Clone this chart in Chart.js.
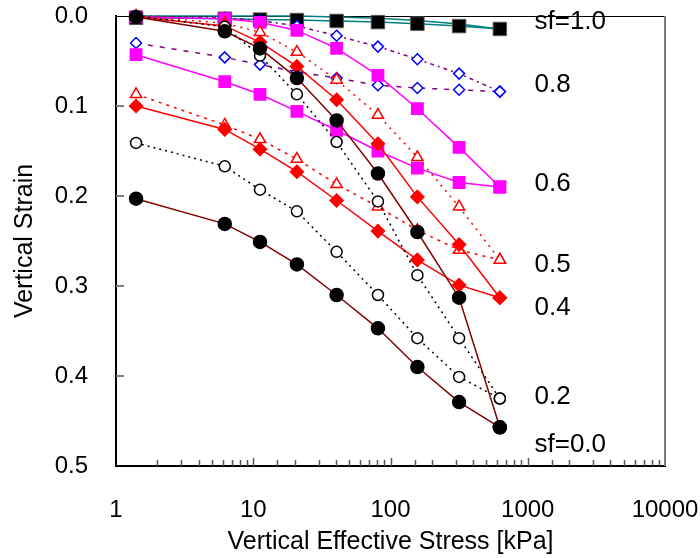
<!DOCTYPE html>
<html>
<head>
<meta charset="utf-8">
<script src="https://cdn.jsdelivr.net/npm/chart.js@4.4.1/dist/chart.umd.min.js"></script>
<style>
  html, body { margin: 0; padding: 0; background: #fff; }
  #wrap { width: 700px; height: 558px; }
</style>
</head>
<body>
<div id="wrap"><canvas id="chart"></canvas></div>
<script>
// stress steps [kPa]
const stress = [1.4, 6.2, 11.2, 20.8, 40.5, 81, 157, 316, 626];

// vertical strain, two curves per sf (from zero / from initial strain)
const sf00Up  = [0.001, 0.017, 0.036, 0.069, 0.116, 0.175, 0.240, 0.313, 0.457];
const sf00Low = [0.203, 0.231, 0.251, 0.276, 0.310, 0.347, 0.390, 0.429, 0.457];
const sf02Up  = [0.000, 0.012, 0.044, 0.087, 0.140, 0.206, 0.288, 0.358, 0.425];
const sf02Low = [0.141, 0.167, 0.193, 0.217, 0.262, 0.310, 0.358, 0.401, 0.425];
const sf04Up  = [0.001, 0.011, 0.029, 0.056, 0.093, 0.142, 0.201, 0.254, 0.313];
const sf04Low = [0.100, 0.126, 0.148, 0.173, 0.205, 0.239, 0.271, 0.299, 0.313];
const sf05Up  = [0.000, 0.008, 0.018, 0.040, 0.071, 0.110, 0.157, 0.212, 0.271];
const sf05Low = [0.087, 0.121, 0.137, 0.159, 0.187, 0.212, 0.238, 0.260, 0.271];
const sf06Up  = [0.001, 0.003, 0.007, 0.016, 0.036, 0.066, 0.103, 0.146, 0.190];
const sf06Low = [0.043, 0.073, 0.087, 0.106, 0.127, 0.150, 0.169, 0.185, 0.190];
const sf08Up  = [0.000, 0.002, 0.005, 0.011, 0.022, 0.034, 0.048, 0.064, 0.084];
const sf08Low = [0.030, 0.046, 0.054, 0.062, 0.069, 0.077, 0.080, 0.082, 0.084];
const sf10Pts = [0.002, 0.003, 0.004, 0.0045, 0.0055, 0.0068, 0.0085, 0.0112, 0.0144];
const sf10Line = [0.000, 0.000, 0.000, 0.000, 0.001, 0.0025, 0.005, 0.009, 0.0144];

// curve labels on the right
const labelText = ['sf=1.0', '0.8', '0.6', '0.5', '0.4', '0.2', 'sf=0.0'];
const labelStrain = [0.006, 0.077, 0.186, 0.276, 0.324, 0.423, 0.477];
const labelStress = 1120;

const FONT = "'Liberation Sans', Arial, sans-serif";

function pts(ys) {
    return ys.map((y, i) => ({ x: stress[i], y: y }));
}

function series(ys, o) {
    return Object.assign({
        data: pts(ys),
        borderWidth: 1.5,
        pointBorderWidth: 1.5,
        tension: 0,
        clip: false
    }, o);
}

const filledCircle = { borderColor: '#800000', pointStyle: 'circle', pointRadius: 6.5, pointBackgroundColor: '#000', pointBorderColor: '#000' };
const openCircle = { borderColor: '#000', borderDash: [2, 4], pointStyle: 'circle', pointRadius: 5.5, pointBackgroundColor: '#fff', pointBorderColor: '#000' };
const redDiamond = { borderColor: '#ff0000', pointStyle: 'rectRot', pointRadius: 6.5, pointBackgroundColor: '#ff0000', pointBorderColor: '#ff0000' };
const redTriangle = { borderColor: '#ff0000', borderDash: [2, 5], pointStyle: 'triangle', pointRadius: 6.5, pointBackgroundColor: '#fff', pointBorderColor: '#ff0000' };
const pinkSquare = { borderColor: '#ff00ff', pointStyle: 'rect', pointRadius: 8, pointBackgroundColor: '#ff00ff', pointBorderColor: '#ff00ff' };
const blueDiamond = { borderColor: '#800080', pointStyle: 'rectRot', pointRadius: 5.5, pointBackgroundColor: '#fff', pointBorderColor: '#0000ff' };

const datasets = [
    series(sf00Up, filledCircle),
    series(sf00Low, filledCircle),
    series(sf02Up, openCircle),
    series(sf02Low, openCircle),
    series(sf04Up, redDiamond),
    series(sf04Low, redDiamond),
    series(sf05Up, redTriangle),
    series(sf05Low, Object.assign({}, redTriangle, { borderDash: [3, 5] })),
    series(sf06Up, pinkSquare),
    series(sf06Low, pinkSquare),
    series(sf08Up, Object.assign({}, blueDiamond, { borderDash: [2, 4, 4, 4] })),
    series(sf08Low, Object.assign({}, blueDiamond, { borderDash: [5, 7] })),
    series(sf10Pts, { borderColor: '#008080', pointStyle: 'rect', pointRadius: 9.5, pointBackgroundColor: '#000', pointBorderColor: '#555', pointBorderWidth: 1 }),
    series(sf10Line, { borderColor: '#008080', pointRadius: 0 })
];

// frame on top/right plus inward tick marks
const frameTicks = {
    id: 'frameTicks',
    beforeDatasetsDraw(chart) {
        const { ctx, chartArea: a, scales: { x, y } } = chart;
        ctx.save();
        ctx.lineWidth = 1;
        ctx.strokeStyle = '#000';
        ctx.beginPath();
        ctx.moveTo(a.left, a.top + 0.5);
        ctx.lineTo(a.right, a.top + 0.5);
        ctx.stroke();
        ctx.lineWidth = 2;
        ctx.strokeStyle = '#7a7a7a';
        ctx.beginPath();
        ctx.moveTo(a.right, a.top);
        ctx.lineTo(a.right, a.bottom);
        ctx.stroke();

        ctx.lineWidth = 1.5;
        ctx.strokeStyle = '#555';
        x.ticks.forEach(t => {
            const px = Math.round(x.getPixelForValue(t.value)) + 0.5;
            const major = Math.abs(Math.log10(t.value) - Math.round(Math.log10(t.value))) < 1e-9;
            if (t.value <= 1 || t.value >= 10000) return;
            ctx.beginPath();
            ctx.moveTo(px, a.bottom);
            ctx.lineTo(px, a.bottom - (major ? 8 : 6));
            ctx.stroke();
        });
        ctx.lineWidth = 2;
        ctx.strokeStyle = '#808080';
        y.ticks.forEach(t => {
            if (t.value <= 0 || t.value >= 0.5) return;
            const py = Math.round(y.getPixelForValue(t.value));
            ctx.beginPath();
            ctx.moveTo(a.left, py);
            ctx.lineTo(a.left + 8, py);
            ctx.stroke();
        });
        ctx.restore();
    },
    afterDatasetsDraw(chart) {
        const { ctx, scales: { x, y } } = chart;
        ctx.save();
        ctx.fillStyle = '#000';
        ctx.font = '26px ' + FONT;
        ctx.textAlign = 'left';
        ctx.textBaseline = 'middle';
        labelText.forEach((txt, i) => {
            ctx.fillText(txt, x.getPixelForValue(labelStress), y.getPixelForValue(labelStrain[i]));
        });
        ctx.restore();
    }
};

const config = {
    type: 'line',
    data: { datasets: datasets },
    options: {
        responsive: true,
        maintainAspectRatio: false,
        animation: false,
        events: [],
        layout: {
            padding: { top: 16, right: 35, bottom: 0, left: 0 }
        },
        plugins: {
            legend: { display: false },
            tooltip: { enabled: false }
        },
        scales: {
            x: {
                type: 'logarithmic',
                min: 1,
                max: 10000,
                afterFit(s) {
                    s.height = 92;
                    s.paddingLeft = 0;  // label overhang already covered by layout padding
                    s.paddingRight = 0;
                },
                grid: { display: false, drawTicks: false },
                border: { display: true, color: '#000', width: 2 },
                ticks: {
                    autoSkip: false,
                    maxRotation: 0,
                    padding: 30,
                    color: '#000',
                    font: { family: FONT, size: 24 },
                    callback: v => [1, 10, 100, 1000, 10000].includes(v) ? String(v) : ''
                },
                title: {
                    display: true,
                    text: 'Vertical Effective Stress [kPa]',
                    color: '#000',
                    font: { family: FONT, size: 25 },
                    padding: { top: 0, bottom: 1 }
                }
            },
            y: {
                type: 'linear',
                reverse: true,
                min: 0,
                max: 0.5,
                afterFit(s) {
                    s.width = 116;
                    s.paddingTop = 0;
                    s.paddingBottom = 0;
                },
                grid: { display: false, drawTicks: false },
                border: { display: true, color: '#000', width: 2 },
                ticks: {
                    stepSize: 0.1,
                    padding: 28,
                    color: '#000',
                    font: { family: FONT, size: 24 },
                    callback: v => v.toFixed(1)
                },
                title: {
                    display: true,
                    text: 'Vertical Strain',
                    color: '#000',
                    font: { family: FONT, size: 25 },
                    padding: { top: 10, bottom: 0 }
                }
            }
        }
    },
    plugins: [frameTicks]
};

var chart = document.getElementById('chart');
var myChart = new Chart(chart, config);
</script>
</body>
</html>
